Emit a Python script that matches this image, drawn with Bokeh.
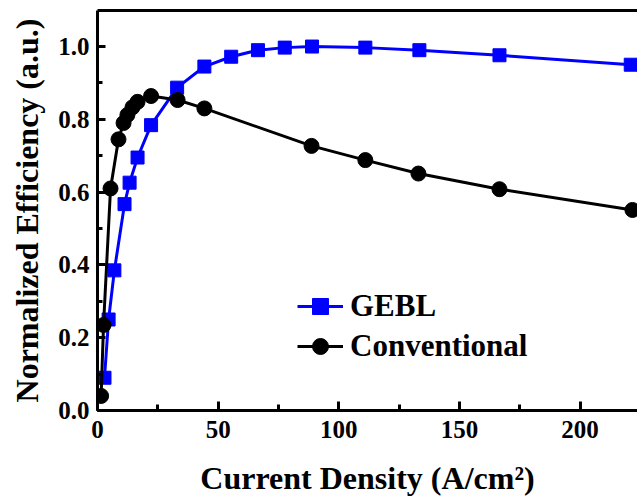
from bokeh.plotting import figure
from bokeh.models import (Range1d, LinearAxis, FixedTicker, SingleIntervalTicker,
                          Legend, LegendItem, CustomJSTickFormatter)
from bokeh.embed import file_html
from bokeh.resources import INLINE

# ---- data ----
gebl_x = [2.9, 4.6, 7.0, 11.2, 13.3, 16.6, 22.2, 33.0, 44.3, 55.4, 66.5, 77.6, 88.9,
          111.0, 133.4, 166.6, 221.0]
gebl_y = [0.09, 0.25, 0.385, 0.567, 0.626, 0.695, 0.784, 0.887, 0.945, 0.972, 0.99,
          0.997, 1.0, 0.997, 0.99, 0.976, 0.95]

conv_x = [1.5, 2.5, 5.4, 8.7, 10.8, 12.4, 14.5, 16.6, 22.2, 33.2, 44.3, 88.7, 111.0,
          133.0, 166.6, 221.7]
conv_y = [0.04, 0.235, 0.61, 0.745, 0.79, 0.812, 0.833, 0.848, 0.864, 0.853, 0.83,
          0.727, 0.688, 0.651, 0.608, 0.551]

FONT = "Liberation Serif"

p = figure(width=637, height=498, output_backend="svg", toolbar_location=None,
           x_range=Range1d(0, 223.8), y_range=Range1d(0, 1.099),
           min_border_left=97, min_border_top=10, min_border_right=0,
           min_border_bottom=87, x_axis_label="Current Density (A/cm²)",
           y_axis_label="Normalized Efficiency (a.u.)")
p.outline_line_color = None
p.grid.visible = False
p.background_fill_color = "white"
p.border_fill_color = "white"

for ax in (p.xaxis[0], p.yaxis[0]):
    ax.axis_line_width = 3
    ax.major_tick_line_width = 3
    ax.minor_tick_line_width = 3
    ax.major_tick_out = 0
    ax.minor_tick_out = 0
    ax.major_label_text_font = FONT
    ax.major_label_text_font_style = "bold"
    ax.major_label_text_font_size = "25px"
    ax.major_label_text_color = "black"
    ax.axis_label_text_font = FONT
    ax.axis_label_text_font_style = "bold"
    ax.axis_label_text_font_size = "32px"
    ax.axis_label_text_color = "black"

p.xaxis[0].ticker = SingleIntervalTicker(interval=50, num_minor_ticks=2)
p.xaxis[0].major_tick_in = 9
p.xaxis[0].minor_tick_in = 6
p.xaxis[0].major_label_standoff = 10
p.xaxis[0].axis_label_standoff = 19

p.yaxis[0].ticker = SingleIntervalTicker(interval=0.2, num_minor_ticks=2)
p.yaxis[0].major_tick_in = 8
p.yaxis[0].minor_tick_in = 5
p.yaxis[0].major_label_standoff = 8
p.yaxis[0].axis_label_standoff = 10
p.yaxis[0].formatter = CustomJSTickFormatter(code="return tick.toFixed(1);")

top = LinearAxis(ticker=FixedTicker(ticks=[]), axis_line_width=3,
                 major_tick_line_color=None, minor_tick_line_color=None,
                 major_label_text_font_size="0px", major_tick_out=0, minor_tick_out=0,
                 major_label_standoff=0)
p.add_layout(top, "above")

gl = p.line(gebl_x, gebl_y, line_color="#0000ff", line_width=3)
gs = p.scatter(gebl_x, gebl_y, marker="square", size=13, fill_color="#0000ff",
               line_color="#0000ff")
cl = p.line(conv_x, conv_y, line_color="black", line_width=3)
cs = p.scatter(conv_x, conv_y, marker="circle", size=15, fill_color="black",
               line_color="black")

legend = Legend(items=[LegendItem(label="GEBL", renderers=[gl, gs]),
                       LegendItem(label="Conventional", renderers=[cl, cs])],
                location=(200, 44), border_line_color=None,
                background_fill_alpha=0, padding=0, spacing=0, margin=0,
                glyph_width=46, glyph_height=40, label_height=40, label_standoff=7,
                label_text_font=FONT, label_text_font_style="bold",
                label_text_font_size="31px", label_text_color="black")
p.add_layout(legend, "center")

open("out.html", "w").write(file_html(p, INLINE))
